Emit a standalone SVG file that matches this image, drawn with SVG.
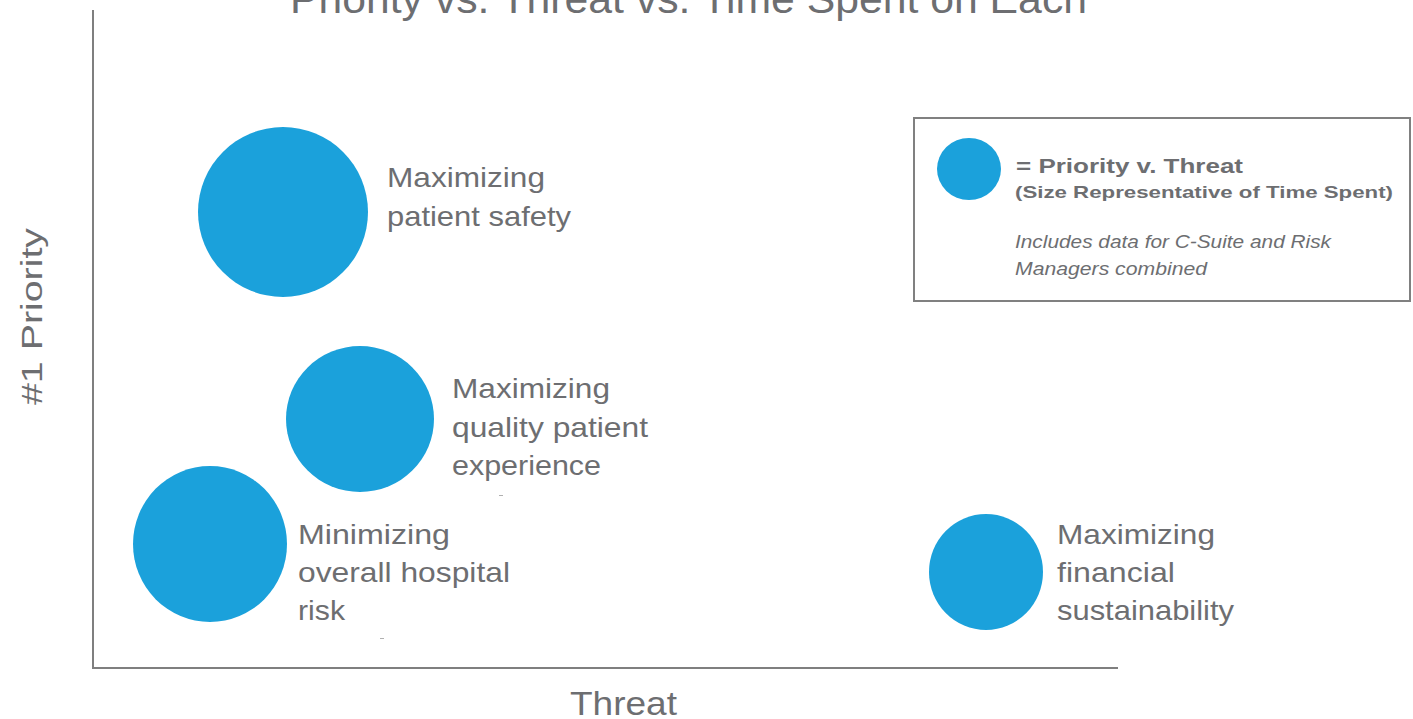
<svg xmlns="http://www.w3.org/2000/svg" width="1413" height="719" viewBox="0 0 1413 719">
<style>
.bub{fill:#1ba1db}
.lbl{font-family:"Liberation Sans",Arial,sans-serif;font-size:28px;fill:#6d6e71;font-weight:normal}
.axis{stroke:#7f7f7f;stroke-width:2;fill:none}
.leg{font-family:"Liberation Sans",Arial,sans-serif;fill:#6d6e71}
</style>
<rect width="1413" height="719" fill="#ffffff"/>
<text x="290" y="13" class="lbl" style="font-size:40px" textLength="797" lengthAdjust="spacingAndGlyphs">Priority vs. Threat vs. Time Spent on Each</text>
<g id="axes">
<path class="axis" d="M93,10 V668 H1118"/>
<text x="570" y="715" class="lbl" style="font-size:34px" textLength="107" lengthAdjust="spacingAndGlyphs">Threat</text>
<text transform="translate(42,405) rotate(-90)" class="lbl" style="font-size:30px" textLength="177" lengthAdjust="spacingAndGlyphs">#1 Priority</text>
</g>
<g id="node-safety">
<ellipse class="bub" cx="283" cy="212" rx="85" ry="85"/>
<text class="lbl" x="387" y="187" textLength="158" lengthAdjust="spacingAndGlyphs">Maximizing</text>
<text class="lbl" x="387" y="226" textLength="184" lengthAdjust="spacingAndGlyphs">patient safety</text>
</g>
<g id="node-quality">
<ellipse class="bub" cx="360" cy="419" rx="74" ry="73"/>
<text class="lbl" x="452" y="398" textLength="158" lengthAdjust="spacingAndGlyphs">Maximizing</text>
<text class="lbl" x="452" y="437" textLength="196" lengthAdjust="spacingAndGlyphs">quality patient</text>
<text class="lbl" x="452" y="475" textLength="149" lengthAdjust="spacingAndGlyphs">experience</text>
</g>
<g id="node-risk">
<ellipse class="bub" cx="210" cy="544" rx="77" ry="78"/>
<text class="lbl" x="298" y="544" textLength="152" lengthAdjust="spacingAndGlyphs">Minimizing</text>
<text class="lbl" x="298" y="582" textLength="212" lengthAdjust="spacingAndGlyphs">overall hospital</text>
<text class="lbl" x="298" y="620" textLength="47" lengthAdjust="spacingAndGlyphs">risk</text>
</g>
<g id="node-financial">
<ellipse class="bub" cx="986" cy="572" rx="57" ry="58"/>
<text class="lbl" x="1057" y="544" textLength="158" lengthAdjust="spacingAndGlyphs">Maximizing</text>
<text class="lbl" x="1057" y="582" textLength="118" lengthAdjust="spacingAndGlyphs">financial</text>
<text class="lbl" x="1057" y="620" textLength="177" lengthAdjust="spacingAndGlyphs">sustainability</text>
</g>
<g id="legend">
<rect x="914" y="118" width="496" height="183" fill="#ffffff" stroke="#808080" stroke-width="2"/>
<ellipse class="bub" cx="969" cy="169" rx="32" ry="31"/>
<text class="leg" x="1016" y="173" style="font-size:20px;font-weight:bold" textLength="227" lengthAdjust="spacingAndGlyphs">= Priority v. Threat</text>
<text class="leg" x="1015" y="198" style="font-size:17px;font-weight:bold" textLength="378" lengthAdjust="spacingAndGlyphs">(Size Representative of Time Spent)</text>
<text class="leg" x="1015" y="248" style="font-size:18px;font-style:italic" textLength="316" lengthAdjust="spacingAndGlyphs">Includes data for C-Suite and Risk</text>
<text class="leg" x="1015" y="275" style="font-size:18px;font-style:italic" textLength="192" lengthAdjust="spacingAndGlyphs">Managers combined</text>
</g>
<g id="connectors"/>
<g id="marks" stroke="#b0b0b0" stroke-width="1">
<line x1="499" y1="495.5" x2="503" y2="495.5"/>
<line x1="380" y1="638.5" x2="384" y2="638.5"/>
</g>
</svg>
